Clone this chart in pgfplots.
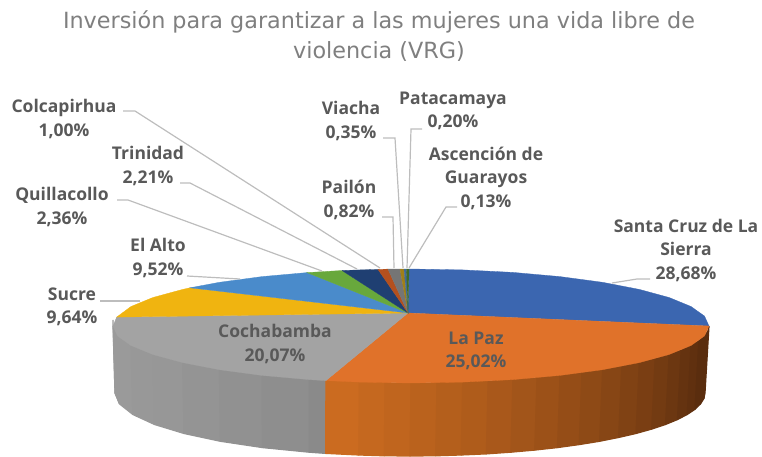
\documentclass[border=0pt]{standalone}
\usepackage{fontspec}
\setmainfont{Open Sans}
\newfontfamily\titlefont{DejaVu Sans}
\usepackage{pgfplots}
\pgfplotsset{compat=1.18}
\definecolor{txt}{HTML}{595959}
\definecolor{ttl}{HTML}{7F7F7F}
\definecolor{lead}{HTML}{BDBDBD}
\definecolor{cSC}{HTML}{3B66B0}
\definecolor{cLP}{HTML}{E0722A}
\definecolor{cCO}{HTML}{A3A3A3}
\definecolor{cSU}{HTML}{F0B410}
\definecolor{cEA}{HTML}{4A8BCB}
\definecolor{cQU}{HTML}{68A83C}
\definecolor{cTR}{HTML}{1F3F72}
\definecolor{cCL}{HTML}{B4501E}
\definecolor{cPA}{HTML}{757575}
\definecolor{cVI}{HTML}{A07F18}
\definecolor{cPT}{HTML}{3F6A9A}
\definecolor{cAS}{HTML}{3F6A2A}
\definecolor{wOa}{HTML}{CB6B20}
\definecolor{wOb}{HTML}{5A2D0E}
\definecolor{wGa}{HTML}{9C9C9C}
\definecolor{wGb}{HTML}{8A8A8A}
% one filled polygon, colour then points
\newcommand{\poly}[2]{\addplot[fill=#1,draw=#1,line width=0.3pt] coordinates {#2} -- cycle;}
% wall strip, thicker outline so that no seam shows
\newcommand{\wall}[2]{\addplot[fill=#1,draw=#1,line width=1.2pt,line join=bevel] coordinates {#2} -- cycle;}
% leader line
\newcommand{\lead}[1]{\addplot[lead,line width=1.2pt] coordinates {#1};}
\newcommand{\lab}[3]{\node[align=center,inner sep=0pt,text=txt,font=\fontsize{17.5}{23.5}\selectfont\bfseries] at (axis cs:#1,#2) {#3};}
\begin{document}
\begin{tikzpicture}
\begin{axis}[
    width=762pt, height=457pt, scale only axis,
    xmin=0, xmax=762, ymin=0, ymax=457,
    y dir=reverse,
    hide axis, clip=false,
]
% side wall, grey part
\wall{wGa}{(113,320)(113,326)(117.5,335.9)(119.5,403.9)(115,393)}
\wall{wGa!90!wGb}{(113,326)(117.5,335.9)(131,345.5)(132.8,414.5)(119.5,403.9)(115,393)}
\wall{wGa!80!wGb}{(131,345.5)(152.9,354.5)(154.5,424.5)(132.8,414.5)}
\wall{wGa!70!wGb}{(152.9,354.5)(182.7,362.6)(184,433.5)(154.5,424.5)}
\wall{wGa!55!wGb}{(182.7,362.6)(219.4,369.7)(220.4,441.3)(184,433.5)}
\wall{wGa!40!wGb}{(219.4,369.7)(262,375.4)(262.5,447.6)(220.4,441.3)}
\wall{wGa!20!wGb}{(262,375.4)(309.1,379.6)(309.1,452.2)(262.5,447.6)}
\wall{wGb}{(309.1,379.6)(325.9,380.6)(325.7,453.4)(309.1,452.2)}
% side wall, orange part
\wall{wOa}{(325.9,380.6)(359.3,382.1)(358.8,455)(325.7,453.4)}
\wall{wOb!5!wOa}{(359.3,382.1)(385,382.8)(384.3,455.8)(358.8,455)}
\wall{wOb!10!wOa}{(385,382.8)(411,383)(410,456)(384.3,455.8)}
\wall{wOb!15!wOa}{(411,383)(437,382.8)(435.7,455.8)(410,456)}
\wall{wOb!20!wOa}{(437,382.8)(462.7,382.1)(461.2,455)(435.7,455.8)}
\wall{wOb!25!wOa}{(462.7,382.1)(488.1,381.1)(486.3,453.9)(461.2,455)}
\wall{wOb!30!wOa}{(488.1,381.1)(512.9,379.6)(510.9,452.2)(486.3,453.9)}
\wall{wOb!36!wOa}{(512.9,379.6)(537,377.7)(534.7,450.1)(510.9,452.2)}
\wall{wOb!42!wOa}{(537,377.7)(560,375.4)(557.5,447.6)(534.7,450.1)}
\wall{wOb!48!wOa}{(560,375.4)(581.9,372.7)(579.2,444.6)(557.5,447.6)}
\wall{wOb!54!wOa}{(581.9,372.7)(602.6,369.7)(599.6,441.3)(579.2,444.6)}
\wall{wOb!60!wOa}{(602.6,369.7)(621.7,366.3)(618.6,437.5)(599.6,441.3)}
\wall{wOb!66!wOa}{(621.7,366.3)(639.3,362.6)(636,433.5)(618.6,437.5)}
\wall{wOb!72!wOa}{(639.3,362.6)(655.1,358.7)(651.7,429.1)(636,433.5)}
\wall{wOb!78!wOa}{(655.1,358.7)(669.1,354.5)(665.5,424.5)(651.7,429.1)}
\wall{wOb!84!wOa}{(669.1,354.5)(681.1,350.1)(677.4,419.6)(665.5,424.5)}
\wall{wOb!90!wOa}{(681.1,350.1)(691,345.5)(687.2,414.5)(677.4,419.6)}
\wall{wOb!95!wOa}{(691,345.5)(698.8,340.8)(695,409.3)(687.2,414.5)}
\wall{wOb}{(698.8,340.8)(704.5,335.9)(700.5,403.9)(695,409.3)}
\wall{wOb}{(704.5,335.9)(707.9,331)(703.9,398.5)(700.5,403.9)}
\wall{wOb}{(707.9,331)(709,326)(705,393)(703.9,398.5)}
% top face, clockwise from the top
\poly{cSC}{(408,313)(409,269)(411,269)(462.7,269.9)(512.9,272.4)(560,276.6)(602.6,282.3)(639.3,289.4)(669.1,297.5)(691,306.5)(704.5,316.1)(709,326)}
\poly{cLP}{(408,313)(709,326)(704.5,335.9)(691,345.5)(669.1,354.5)(639.3,362.6)(602.6,369.7)(560,375.4)(512.9,379.6)(462.7,382.1)(411,383)(359.3,382.1)(325.9,380.6)}
\poly{cCO}{(408,313)(325.9,380.6)(309.1,379.6)(262,375.4)(219.4,369.7)(182.7,362.6)(152.9,354.5)(131,345.5)(117.5,335.9)(113,326)(116.7,317.1)}
\poly{cSU}{(408,313)(116.7,317.1)(131,306.5)(152.9,297.5)(182.7,289.4)(190,287.8)}
\poly{cEA}{(408,313)(190,287.8)(219.4,282.3)(262,276.6)(307,272.6)}
\poly{cQU}{(408,313)(307,272.6)(342,270.5)}
\poly{cTR}{(408,313)(342,270.5)(360,269.9)(378,269.4)}
\poly{cCL}{(408,313)(378,269.4)(388,269.1)}
\poly{cPA}{(408,313)(388,269.1)(400,269)}
\poly{cVI}{(408,313)(400,269)(404,269)}
\poly{cPT}{(408,313)(404,269)(406.5,269)}
\poly{cAS}{(408,313)(406.5,269)(409,269)}
% leader lines
\lead{(123,111)(135,111)(380,268)}
\lead{(180,183)(190,183)(357,269)}
\lead{(117,200)(128,200)(322,271)}
\lead{(187,276)(240,279)}
\lead{(100,301)(140,301)}
\lead{(382,217)(393,217)(394,268)}
\lead{(383,138)(395,138)(403,268)}
\lead{(422,129)(411,129)(407,268)}
\lead{(457,207)(446,207)(409,268)}
\lead{(650,279)(637,279)(612,283)}
% labels
\node[align=center,inner sep=0pt,text=ttl,font=\titlefont\fontsize{22.3}{30}\selectfont] at (axis cs:379,36) {Inversión para garantizar a las mujeres una vida libre de\\violencia (VRG)};
\lab{64}{119}{Colcapirhua\\1,00\%}
\lab{148}{166}{Trinidad\\2,21\%}
\lab{62}{207}{Quillacollo\\2,36\%}
\lab{158}{258}{El Alto\\9,52\%}
\lab{72}{307}{Sucre\\9,64\%}
\lab{275}{344}{Cochabamba\\20,07\%}
\lab{476}{351}{La Paz\\25,02\%}
\lab{686}{250}{Santa Cruz de La\\Sierra\\28,68\%}
\lab{486}{178}{Ascención de\\Guarayos\\0,13\%}
\lab{349}{200}{Pailón\\0,82\%}
\lab{351}{121}{Viacha\\0,35\%}
\lab{453}{111}{Patacamaya\\0,20\%}
\path (axis cs:0,0) rectangle (axis cs:762,457);
\end{axis}
\end{tikzpicture}
\end{document}
